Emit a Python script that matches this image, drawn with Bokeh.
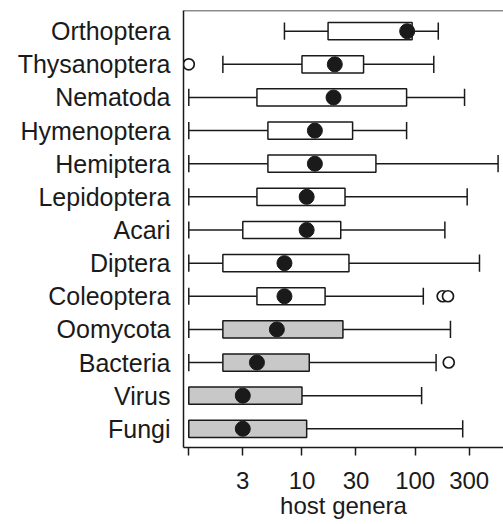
from bokeh.plotting import figure
from bokeh.models import Range1d, FixedTicker, ColumnDataSource, Span
from bokeh.embed import file_html
from bokeh.resources import INLINE

# Categories listed top to bottom
categories = ["Orthoptera", "Thysanoptera", "Nematoda", "Hymenoptera", "Hemiptera",
              "Lepidoptera", "Acari", "Diptera", "Coleoptera", "Oomycota",
              "Bacteria", "Virus", "Fungi"]
whisker_low = [7, 2, 1, 1, 1, 1, 1, 1, 1, 1, 1, 1, 1]
q1 = [17, 10, 4, 5, 5, 4, 3, 2, 4, 2, 2, 1, 1]
median = [85, 19.5, 19, 13, 13, 11, 11, 7, 7, 6, 4, 3, 3]
q3 = [94, 35, 84, 28, 45, 24, 22, 26, 16, 23, 11.6, 10, 11]
whisker_high = [160, 146, 273, 84, 540, 288, 183, 370, 118, 205, 153, 114, 263]

outlier_group = ["Thysanoptera", "Coleoptera", "Coleoptera", "Bacteria"]
outlier_value = [1, 175, 195, 198]

shaded_groups = ["Oomycota", "Bacteria", "Virus", "Fungi"]

x_ticks = [1, 3, 10, 30, 100, 300]
x_tick_labels = ["", "3", "10", "30", "100", "300"]
x_title = "host genera"

FONT = "Liberation Sans"
INK = "#1a1a1a"
FS = "24px"

n = len(categories)
ypos = [n - i for i in range(n)]
pos_of = dict(zip(categories, ypos))
half = 0.26

src = ColumnDataSource(dict(
    y=ypos, lo=whisker_low, q1=q1, med=median, q3=q3, hi=whisker_high,
    ylo=[y - half for y in ypos], yhi=[y + half for y in ypos],
    fill=["#c8c8c8" if c in shaded_groups else "white" for c in categories],
))
osrc = ColumnDataSource(dict(x=outlier_value, y=[pos_of[g] for g in outlier_group]))

p = figure(width=503, height=524, x_axis_type="log",
           x_range=Range1d(0.898, 603), y_range=Range1d(0.435, 13.625),
           output_backend="svg", toolbar_location=None,
           min_border_left=183, min_border_right=0, min_border_top=10, min_border_bottom=77)
p.outline_line_color = None
p.grid.visible = False

p.segment(x0="lo", y0="y", x1="q1", y1="y", line_color=INK, line_width=1.5, source=src)
p.segment(x0="q3", y0="y", x1="hi", y1="y", line_color=INK, line_width=1.5, source=src)
p.segment(x0="lo", y0="ylo", x1="lo", y1="yhi", line_color=INK, line_width=1.5, source=src)
p.segment(x0="hi", y0="ylo", x1="hi", y1="yhi", line_color=INK, line_width=1.5, source=src)
p.hbar(y="y", left="q1", right="q3", height=2 * half, fill_color="fill",
       line_color=INK, line_width=1.5, source=src)
p.scatter(x="med", y="y", size=15, marker="circle", fill_color=INK, line_color=INK, source=src)
p.scatter(x="x", y="y", size=11, marker="circle", fill_color="white",
          line_color=INK, line_width=1.7, source=osrc)

p.add_layout(Span(location=13.625, dimension="width", line_color=INK, line_width=1.5))

xa = p.xaxis[0]
xa.ticker = FixedTicker(ticks=x_ticks, minor_ticks=[])
xa.major_label_overrides = {t: l for t, l in zip(x_ticks, x_tick_labels)}
xa.major_tick_in = 0
xa.major_tick_out = 8
xa.major_tick_line_width = 1.5
xa.major_tick_line_color = INK
xa.minor_tick_line_color = None
xa.axis_line_width = 1.5
xa.axis_line_color = INK
xa.major_label_standoff = 16
xa.major_label_text_font = FONT
xa.major_label_text_font_size = FS
xa.major_label_text_color = INK
xa.axis_label = x_title
xa.axis_label_text_font = FONT
xa.axis_label_text_font_size = FS
xa.axis_label_text_font_style = "normal"
xa.axis_label_text_color = INK
xa.axis_label_standoff = 0

ya = p.yaxis[0]
ya.ticker = FixedTicker(ticks=ypos, minor_ticks=[])
ya.major_label_overrides = {y: c for y, c in zip(ypos, categories)}
ya.major_tick_in = 0
ya.major_tick_out = 0
ya.minor_tick_line_color = None
ya.axis_line_width = 1.5
ya.axis_line_color = INK
ya.major_label_standoff = 13
ya.major_label_text_font = FONT
ya.major_label_text_font_size = "25px"
ya.major_label_text_color = INK

open("out.html", "w").write(file_html(p, INLINE))
